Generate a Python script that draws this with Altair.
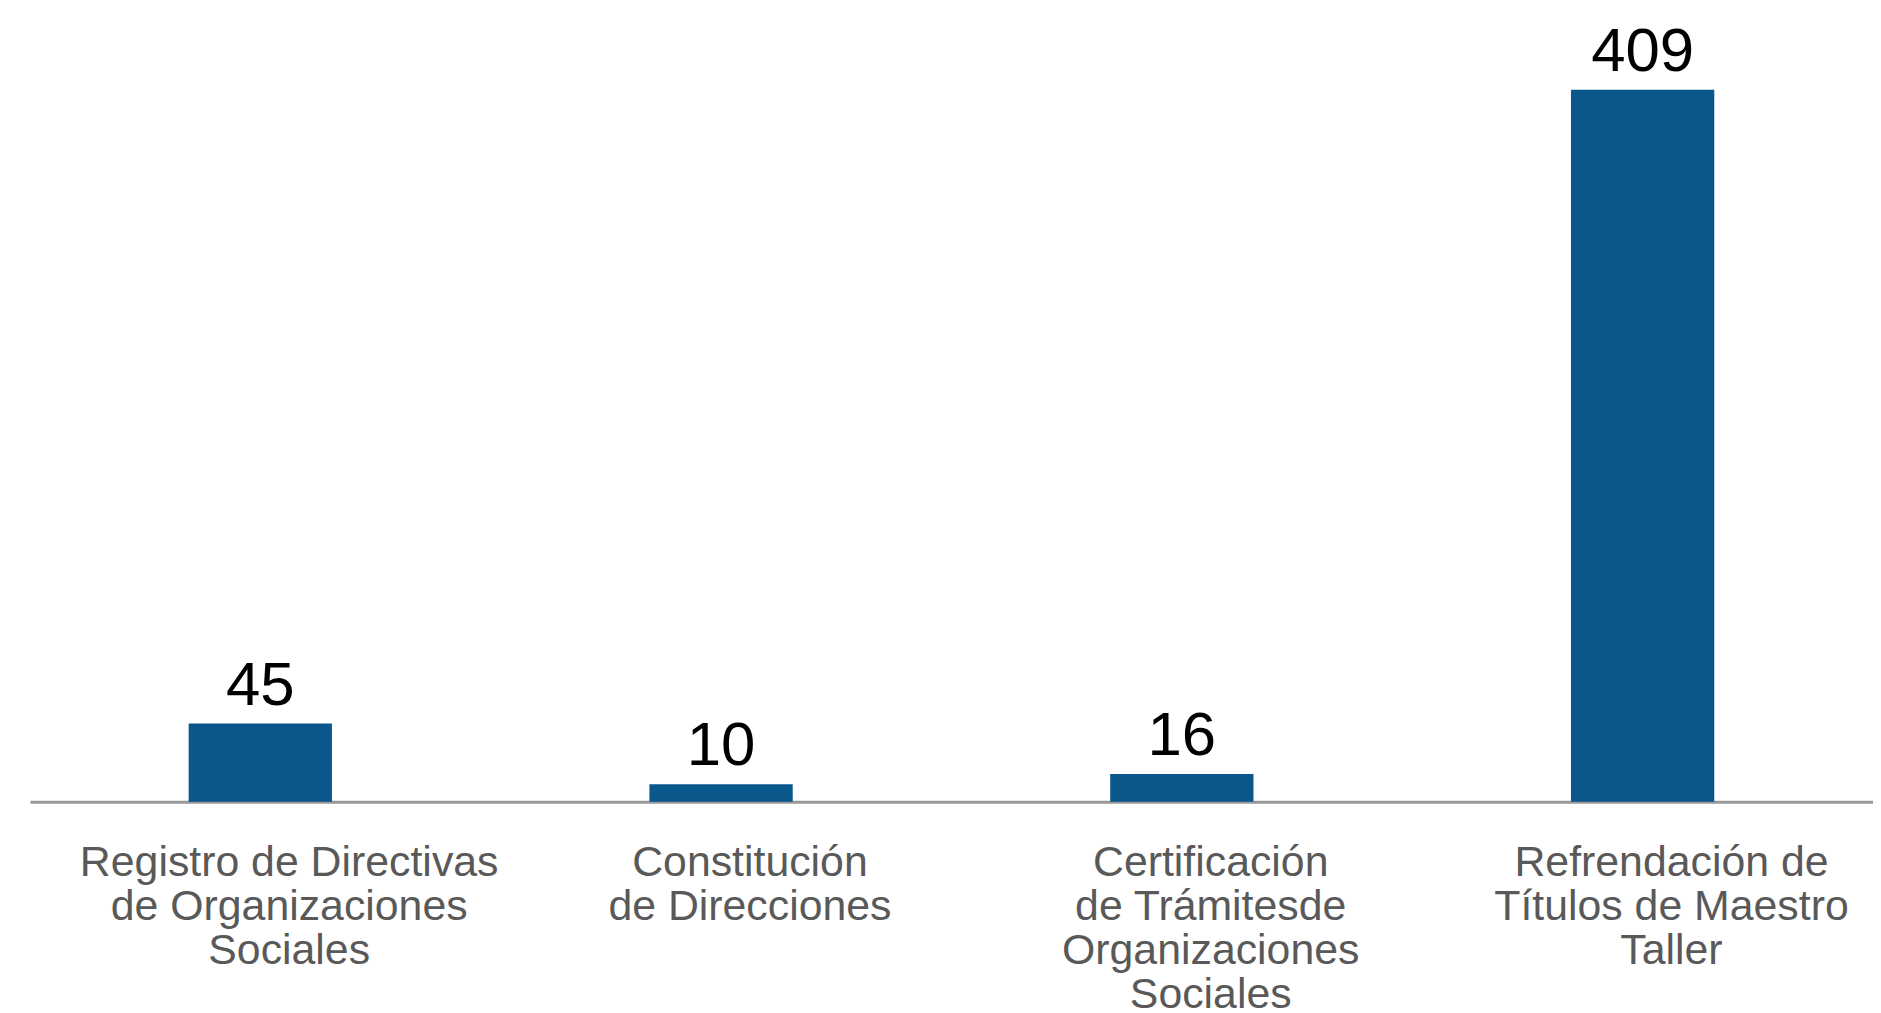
import altair as alt
import pandas as pd

categories = [
    "Registro de Directivas\nde Organizaciones\nSociales",
    "Constitución\nde Direcciones",
    "Certificación\nde Trámitesde\nOrganizaciones\nSociales",
    "Refrendación de\nTítulos de Maestro\nTaller",
]
values = [45, 10, 16, 409]

df = pd.DataFrame({"cat": categories, "val": values})

x = alt.X(
    "cat:N",
    sort=None,
    title=None,
    scale=alt.Scale(paddingInner=0.689, paddingOuter=0.3445),
    axis=alt.Axis(
        labels=False,
        ticks=False,
        domainColor="#999999",
        domainWidth=3,
        grid=False,
    ),
)
y = alt.Y("val:Q", title=None, scale=alt.Scale(domain=[0, 409], nice=False), axis=None)

bars = alt.Chart(df).mark_bar(color="#0A578C").encode(x=x, y=y)
text = alt.Chart(df).mark_text(
    baseline="bottom", dy=-6, font="Liberation Sans", fontSize=62, color="#000000"
).encode(x=x, y=y, text="val:Q")
cat_labels = alt.Chart(df).mark_text(
    baseline="top", align="center", dx=29, dy=41, lineBreak="\n", lineHeight=44,
    font="Liberation Sans", fontSize=43, color="#595959"
).encode(x=x, y=alt.datum(0), text="cat:N")

chart = (
    alt.layer(bars, text, cat_labels)
    .properties(
        width=1851,
        height=715,
        autosize=alt.AutoSizeParams(type="none"),
        padding={"left": 22, "top": 80, "right": 0, "bottom": 215},
        view=alt.ViewBackground(strokeWidth=0, strokeOpacity=0),
    )
    .configure_view(strokeWidth=0, strokeOpacity=0)
    .configure(background="white")
)

chart.save("out.html", embed_options={"renderer": "svg", "actions": False})
